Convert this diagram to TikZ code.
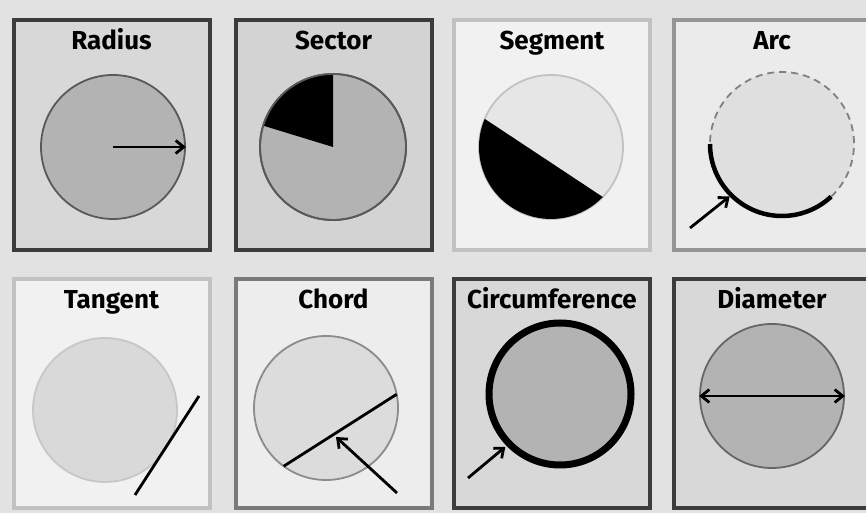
\documentclass[tikz,border=0pt]{standalone}
\usepackage{fontspec}
\setmainfont{Fira Sans}
\usetikzlibrary{arrows.meta,calc}
\definecolor{bgc}{HTML}{E2E2E2}
\definecolor{bdark}{HTML}{3C3C3C}
\definecolor{bmid}{HTML}{7A7A7A}
\definecolor{blight}{HTML}{C2C2C2}
\definecolor{fdark}{HTML}{D8D8D8}
\definecolor{fsec}{HTML}{D3D3D3}
\definecolor{flight}{HTML}{F1F1F1}
\definecolor{farc}{HTML}{EBEBEB}
\definecolor{fchord}{HTML}{EDEDED}
\definecolor{cdark}{HTML}{B3B3B3}
\definecolor{clight}{HTML}{E6E6E6}
\definecolor{carc}{HTML}{DFDFDF}
\definecolor{ctan}{HTML}{D9D9D9}
\definecolor{cchord}{HTML}{DCDCDC}
\tikzset{
  panel/.style={rectangle, line width=4pt, minimum width=196pt, inner sep=0pt},
  title/.style={font=\bfseries\fontsize{26}{30}\selectfont, text=black, anchor=base, inner sep=0pt},
  circ/.style={circle, inner sep=0pt, line width=1.8pt, minimum size=#1},
  barb/.tip={Straight Barb[length=8pt,width=13pt,line width=2.8pt]},
  pointer/.style={line width=2.8pt, -barb},
}
\begin{document}
\begin{tikzpicture}[x=1pt,y=1pt]
\fill[bgc] (0,0) rectangle (866,513);
\useasboundingbox (0,0) rectangle (866,513);
\clip (0,0) rectangle (866,513);
% panels row 1
\node[panel, draw=bdark, fill=fdark, minimum height=230pt] (p1) at (111.5,378) {};
\node[panel, draw=bdark, fill=fsec, minimum height=230pt] (p2) at (333.5,378) {};
\node[panel, draw=blight, fill=flight, minimum height=230pt] (p3) at (552,378) {};
\node[panel, draw=bmid!80, fill=farc, minimum height=230pt] (p4) at (772,378) {};
% panels row 2
\node[panel, draw=blight, fill=flight, minimum height=229pt] (p5) at (111.5,119.5) {};
\node[panel, draw=bmid, fill=fchord, minimum height=229pt] (p6) at (333.5,119.5) {};
\node[panel, draw=bdark, fill=fdark, minimum height=229pt] (p7) at (552,119.5) {};
\node[panel, draw=bdark, fill=fdark, minimum height=229pt] (p8) at (772,119.5) {};
% titles
\node[title] (t1) at (111.5,463) {Radius};
\node[title] (t2) at (333.5,463) {Sector};
\node[title] (t3) at (552,463) {Segment};
\node[title] (t4) at (772,463) {Arc};
\node[title] (t5) at (111.5,204) {Tangent};
\node[title] (t6) at (333.5,204) {Chord};
\node[title] (t7) at (552,204) {Circumference};
\node[title] (t8) at (772,204) {Diameter};
% Radius
\node[circ=144pt, draw=black!65, fill=cdark] (c1) at (113,366) {};
\draw[pointer] (c1.center) -- (c1.east);
% Sector
\node[circ=146pt, draw=black!65, fill=cdark] (c2) at (333,366) {};
\fill[black] (c2.center) -- ($(c2.center)+(90:73)$) arc[start angle=90, end angle=163, radius=73] -- cycle;
\draw[black!65, line width=1.8pt] (c2.center) circle[radius=73];
% Segment
\node[circ=144pt, draw=blight, fill=clight] (c3) at (551,366) {};
\fill[black] ($(c3.center)+(157:72)$) arc[start angle=157, end angle=316, radius=72] -- cycle;
% Arc
\node[circ=144pt, fill=carc] (c4) at (782,369) {};
\draw[black!50, line width=1.8pt, dash pattern=on 7pt off 5pt] ($(c4.center)+(313:72)$) arc[start angle=313, end angle=540, radius=72];
\draw[black, line width=4.5pt] ($(c4.center)+(180:72)$) arc[start angle=180, end angle=313, radius=72];
\coordinate (a4) at (690,285);
\draw[pointer] (a4) -- ($(c4.center)+(225:74)$);
% Tangent
\node[circ=144pt, draw=black!22, fill=ctan] (c5) at (105,103) {};
\coordinate (ta) at (135,18);
\coordinate (tb) at (199,117);
\draw[black, line width=2.8pt] (ta) -- (tb);
% Chord
\node[circ=144pt, draw=black!45, fill=cchord] (c6) at (326,105) {};
\draw[black, line width=2.8pt] ($(c6.center)+(234:72)$) -- ($(c6.center)+(11:72)$);
\coordinate (a6) at (397,20);
\draw[pointer] (a6) -- (336,76);
% Circumference
\node[circ=142pt, draw=black, line width=7pt, fill=cdark] (c7) at (560,119) {};
\coordinate (a7) at (468,35);
\draw[pointer] (a7) -- ($(c7.center)+(224:76)$);
% Diameter
\node[circ=144pt, draw=black!60, fill=cdark] (c8) at (772,117) {};
\draw[line width=2.8pt, barb-barb] (c8.west) -- (c8.east);
\end{tikzpicture}
\end{document}
